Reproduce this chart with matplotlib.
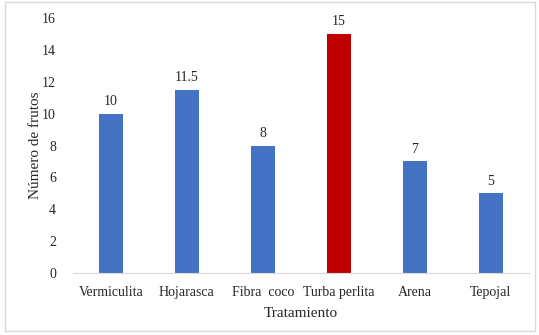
import matplotlib.pyplot as plt
from matplotlib.patches import Rectangle

tratamientos = ['Vermiculita', 'Hojarasca', 'Fibra  coco', 'Turba perlita', 'Arena', 'Tepojal']
frutos = [10, 11.5, 8, 15, 7, 5]
etiquetas = ['10', '11.5', '8', '15', '7', '5']
colores = ['#4472C4', '#4472C4', '#4472C4', '#C00000', '#4472C4', '#4472C4']

plt.rcParams['font.family'] = ['Liberation Serif', 'DejaVu Serif']

fig = plt.figure(figsize=(5.39, 3.35), dpi=100)
ax = fig.add_axes([0.135, 0.185, 0.846, 0.761])

x = range(len(tratamientos))
bars = ax.bar(x, frutos, width=0.32, color=colores)
for b, t in zip(bars, etiquetas):
    ax.text(b.get_x() + b.get_width() / 2, b.get_height() + 0.35, t,
            ha='center', va='bottom', fontsize=10, color='#262626')

ax.set_xlim(-0.5, len(tratamientos) - 0.5)
ax.set_ylim(0, 16)
ax.set_yticks(range(0, 17, 2))
ax.set_xticks(list(x))
ax.set_xticklabels(tratamientos)
ax.tick_params(axis='both', length=0, labelsize=10, labelcolor='#262626')
ax.tick_params(axis='y', pad=12)
ax.tick_params(axis='x', pad=9)
for s in ['top', 'right', 'left']:
    ax.spines[s].set_visible(False)
ax.spines['bottom'].set_color('#D9D9D9')

ax.set_ylabel('Número de frutos', fontsize=11, color='#262626', labelpad=0)
ax.set_xlabel('Tratamiento', fontsize=11, color='#262626', labelpad=6)

fig.patches.append(Rectangle((0.009, 0.012), 0.983, 0.982, transform=fig.transFigure,
                             fill=False, edgecolor='#D9D9D9', linewidth=1))

fig.savefig('out.png', dpi=100)
